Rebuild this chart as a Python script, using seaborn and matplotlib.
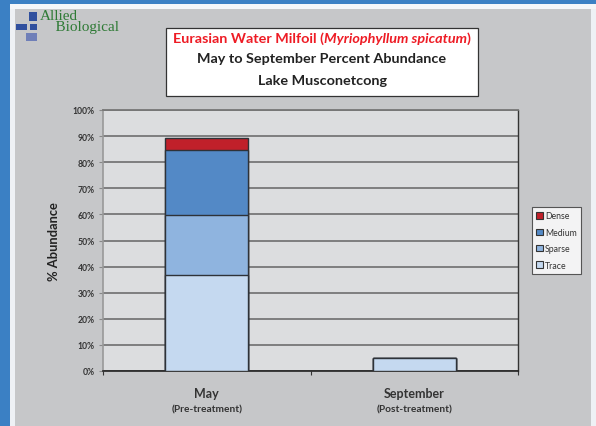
import matplotlib
matplotlib.use("Agg")
import matplotlib.pyplot as plt
import matplotlib.patches as mpatches
import numpy as np
import pandas as pd
import seaborn as sns

# ---- data ----
categories = ["May", "September"]
sublabels = ["(Pre-treatment)", "(Post-treatment)"]
trace = [36.8, 4.8]
sparse = [23.1, 0.0]
medium = [24.9, 0.2]
dense = [4.6, 0.0]
series_names = ["Dense", "Medium", "Sparse", "Trace"]
series_colors = ["#c0202a", "#5389c6", "#8fb4df", "#c5d9f0"]
yticks = [0, 10, 20, 30, 40, 50, 60, 70, 80, 90, 100]
ytick_labels = [f"{v}%" for v in yticks]
title_l1 = ("Eurasian Water Milfoil (", "Myriophyllum spicatum", ")")
title_l2 = "May to September Percent Abundance"
title_l3 = "Lake Musconetcong"
ylabel = "% Abundance"

sns.set_theme(style="white")
plt.rcParams["font.family"] = ["Lato", "DejaVu Sans"]

W, H = 596, 427
fig = plt.figure(figsize=(W / 100, H / 100), dpi=100)
fig.patch.set_facecolor("#eef1f5")

def px_rect(x0, y0, x1, y1, color, z=0, ec="none", lw=0):
    r = mpatches.Rectangle((x0 / W, 1 - y1 / H), (x1 - x0) / W, (y1 - y0) / H,
                           transform=fig.transFigure, facecolor=color,
                           edgecolor=ec, linewidth=lw, zorder=z)
    fig.patches.append(r)
    return r

# frame / background
px_rect(0, 0, W, 5, "#3b80c4", z=-5)
px_rect(0, 0, 10, H, "#3b80c4", z=-5)
px_rect(10, 5, W, 10, "#f4f6f9", z=-5)
px_rect(15, 10, 591, H, "#c6c7c9", z=-5)

# logo
px_rect(29, 13, 37, 22, "#2f4f9e", z=1)
px_rect(16, 25, 27, 31, "#2f4f9e", z=1)
px_rect(30, 25, 37, 31, "#2f4f9e", z=1)
px_rect(26, 34, 37, 42, "#6f7fb8", z=1)
fig.text(40 / W, 1 - 10 / H, "Allied\n    Biological", fontsize=11,
         color="#2e7a35", family="Liberation Serif", va="top", ha="left",
         linespacing=0.8, zorder=2)

# ---- axes ----
ax = fig.add_axes([103 / W, 1 - 372 / H, (518 - 103) / W, (372 - 111) / H])
ax.set_zorder(1)
ax.set_facecolor("#dcdddf")

df = pd.DataFrame({"cat": categories, "Trace": trace, "Sparse": sparse,
                   "Medium": medium, "Dense": dense})
cum = {
    "Trace": df["Trace"],
    "Sparse": df["Trace"] + df["Sparse"],
    "Medium": df["Trace"] + df["Sparse"] + df["Medium"],
    "Dense": df["Trace"] + df["Sparse"] + df["Medium"] + df["Dense"],
}
for name, col in zip(series_names, series_colors):
    sns.barplot(x=df["cat"], y=cum[name], color=col, width=0.4, ax=ax,
                edgecolor="#2e3238", linewidth=1.0, saturation=1, zorder=3)

ax.set_ylim(0, 100)
ax.set_xlim(-0.5, 1.5)
ax.set_yticks(yticks)
ax.set_yticklabels(ytick_labels, fontsize=6.2, fontweight="bold", color="#333333")
ax.yaxis.grid(True, color="#777777", linewidth=1.3, zorder=0)
ax.set_axisbelow(True)
ax.tick_params(axis="y", length=3, width=0.8, color="#888888", pad=3, left=True)
ax.set_xticks([0, 1])
ax.set_xticklabels([])
ax.set_xticks([-0.5, 0.5, 1.5], minor=True)
ax.tick_params(axis="x", which="major", length=0, bottom=False)
ax.tick_params(axis="x", which="minor", length=3, width=0.8, color="#333333", bottom=True)
ax.set_xlabel("")
ax.set_ylabel(ylabel, fontsize=9.3, fontweight="bold", color="#222222", labelpad=9)
ax.spines["left"].set_color("#999999")
ax.spines["left"].set_linewidth(1.2)
ax.spines["bottom"].set_color("#222222")
ax.spines["bottom"].set_linewidth(1.2)
ax.spines["right"].set_color("#333333")
ax.spines["right"].set_linewidth(1.0)
ax.spines["top"].set_color("#777777")
ax.spines["top"].set_linewidth(1.3)

# category labels
for i, (c, s) in enumerate(zip(categories, sublabels)):
    ax.annotate(c, xy=(i, 0), xycoords=("data", "axes fraction"),
                xytext=(0, -15.5), textcoords="offset points", ha="center",
                va="center", fontsize=9, fontweight="bold", color="#333333")
    ax.annotate(s, xy=(i, 0), xycoords=("data", "axes fraction"),
                xytext=(0, -27), textcoords="offset points", ha="center",
                va="center", fontsize=7.3, fontweight="bold", color="#333333")

# legend
handles = [mpatches.Patch(facecolor=c, edgecolor="#333333", linewidth=0.8, label=n)
           for n, c in zip(series_names, series_colors)]
leg = fig.legend(handles=handles, loc="upper left",
                 bbox_to_anchor=(532 / W, 1 - 208 / H), frameon=True,
                 fontsize=6.3, handlelength=0.75, handleheight=0.75,
                 handletextpad=0.25, labelspacing=0.85, borderpad=0.5,
                 borderaxespad=0, fancybox=False)
leg.set_zorder(5)
leg.get_frame().set_edgecolor("#333333")
leg.get_frame().set_linewidth(0.8)
leg.get_frame().set_facecolor("white")
for t in leg.get_texts():
    t.set_color("#333333")

# title box
px_rect(166, 29, 478, 97, "white", z=1, ec="#333333", lw=0.9)
fs = 10.4
renderer = fig.canvas.get_renderer()
parts = [(title_l1[0], "normal"), (title_l1[1], "italic"), (title_l1[2], "normal")]
texts = []
widths = []
for s, st in parts:
    t = fig.text(0, 1 - 39 / H, s, fontsize=fs, fontweight="bold", style=st,
                 color="#ee1c25", va="center", ha="left", zorder=2)
    texts.append(t)
    widths.append(t.get_window_extent(renderer).width)
total = sum(widths)
x = (322 - total / 2)
for t, w in zip(texts, widths):
    t.set_x(x / W)
    x += w
fig.text(322 / W, 1 - 59 / H, title_l2, fontsize=fs, fontweight="bold",
         color="#222222", ha="center", va="center", zorder=2)
fig.text(322 / W, 1 - 81 / H, title_l3, fontsize=fs, fontweight="bold",
         color="#222222", ha="center", va="center", zorder=2)

fig.savefig("out.png", dpi=100)
